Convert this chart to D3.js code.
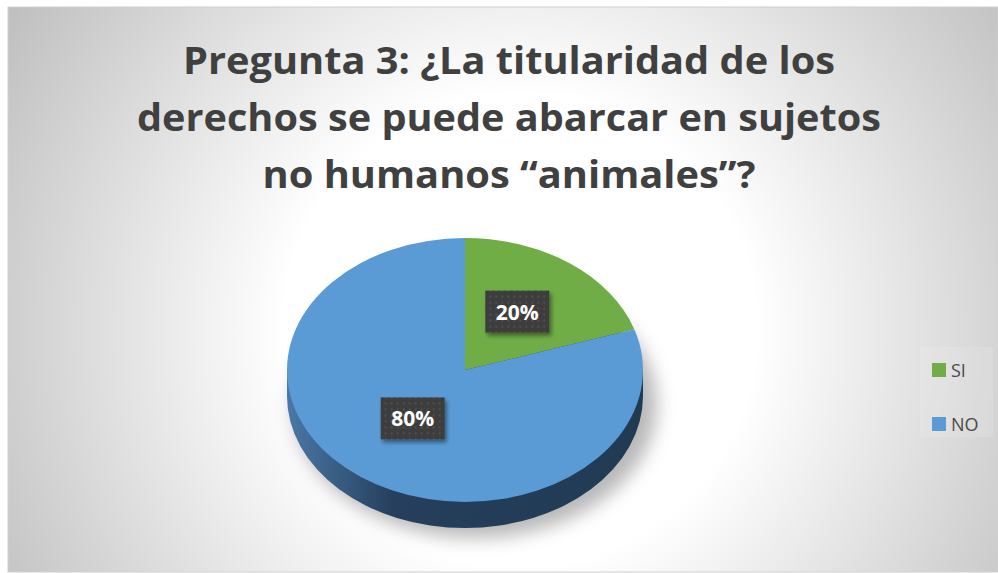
<!DOCTYPE html>
<html>
<head>
<meta charset="utf-8">
<script src="https://cdn.jsdelivr.net/npm/d3@7"></script>
<style>
  body { margin: 0; background: #fff; }
  svg { display: block; }
</style>
</head>
<body>
<div id="chart"></div>
<script>
// data
var categories = ["SI", "NO"];
var values = [20, 80];
var colors = ["#70ad47", "#5b9bd5"];
var titleLines = ["Pregunta 3: ¿La titularidad de los",
                  "derechos se puede abarcar en sujetos",
                  "no humanos \u201Canimales\u201D?"];
var titleWidths = [652, 744, 493];

var W = 998, H = 573;
var svg = d3.select("#chart").append("svg").attr("width", W).attr("height", H);
var defs = svg.append("defs");

// background gradient
var bg = defs.append("radialGradient").attr("id", "bg")
    .attr("gradientUnits", "userSpaceOnUse")
    .attr("cx", 520).attr("cy", 330).attr("r", 620);
bg.append("stop").attr("offset", "0").attr("stop-color", "#ffffff");
bg.append("stop").attr("offset", "0.38").attr("stop-color", "#ffffff");
bg.append("stop").attr("offset", "1").attr("stop-color", "#bcbcbc");

svg.append("rect").attr("x", 8).attr("y", 7).attr("width", 990).attr("height", 565)
    .attr("fill", "url(#bg)").attr("stroke", "#d0d0d0").attr("stroke-width", 1);

// title
var title = svg.append("g").attr("fill", "#404040")
    .style("font-family", "'Open Sans', Lato, sans-serif")
    .style("font-weight", "bold").style("font-size", "38px");
titleLines.forEach(function(t, i) {
  title.append("text")
    .attr("x", 509).attr("y", 74 + i * 57)
    .attr("text-anchor", "middle")
    .attr("textLength", titleWidths[i])
    .attr("lengthAdjust", "spacingAndGlyphs")
    .text(t);
});

// pie geometry
var cx = 465, cy = 370, rx = 178, ry = 132, depth = 26;
var pie = d3.pie().sort(null).value(function(d) { return d; });
var arcs = pie(values);
var arc = d3.arc().innerRadius(0).outerRadius(rx);

// shadow
var blur = defs.append("filter").attr("id", "blur")
    .attr("x", "-30%").attr("y", "-30%").attr("width", "160%").attr("height", "160%");
blur.append("feGaussianBlur").attr("stdDeviation", 9);
svg.append("ellipse").attr("cx", cx + 10).attr("cy", cy + depth + 8)
    .attr("rx", rx + 4).attr("ry", ry + 2)
    .attr("fill", "rgba(0,0,0,0.28)").attr("filter", "url(#blur)");

// side gradient
var sg = defs.append("linearGradient").attr("id", "side")
    .attr("gradientUnits", "userSpaceOnUse")
    .attr("x1", cx - rx).attr("x2", cx + rx).attr("y1", 0).attr("y2", 0);
sg.append("stop").attr("offset", "0").attr("stop-color", "#4a78a6");
sg.append("stop").attr("offset", "0.3").attr("stop-color", "#253f5c");
sg.append("stop").attr("offset", "1").attr("stop-color", "#213a54");

var side = svg.append("g");
side.append("ellipse").attr("cx", cx).attr("cy", cy + depth)
    .attr("rx", rx).attr("ry", ry).attr("fill", "url(#side)");
side.append("rect").attr("x", cx - rx).attr("y", cy)
    .attr("width", rx * 2).attr("height", depth).attr("fill", "url(#side)");

// top face
var face = svg.append("g")
    .attr("transform", "translate(" + cx + "," + cy + ") scale(1," + (ry / rx) + ")");
face.selectAll("path").data(arcs).enter().append("path")
    .attr("d", arc)
    .attr("fill", function(d, i) { return colors[i]; });

// data labels
var pat = defs.append("pattern").attr("id", "dots")
    .attr("patternUnits", "userSpaceOnUse").attr("width", 6).attr("height", 6);
pat.append("rect").attr("width", 6).attr("height", 6).attr("fill", "#3d3d3d");
pat.append("rect").attr("x", 2).attr("y", 2).attr("width", 2).attr("height", 2).attr("fill", "#4f4f4f");

var shadowF = defs.append("filter").attr("id", "lblshadow")
    .attr("x", "-20%").attr("y", "-20%").attr("width", "150%").attr("height", "160%");
shadowF.append("feDropShadow").attr("dx", 2).attr("dy", 3).attr("stdDeviation", 2)
    .attr("flood-color", "#000").attr("flood-opacity", 0.45);

var total = d3.sum(values);
var labels = svg.selectAll("g.lbl").data(arcs).enter().append("g").attr("class", "lbl")
    .attr("transform", function(d) {
      var a = (d.startAngle + d.endAngle) / 2;
      var x = cx + Math.sin(a) * rx * 0.5;
      var y = cy - Math.cos(a) * ry * 0.5 - 5;
      return "translate(" + x + "," + y + ")";
    });
labels.append("rect").attr("x", -32).attr("y", -21).attr("width", 64).attr("height", 42)
    .attr("fill", "url(#dots)").attr("filter", "url(#lblshadow)");
labels.append("text").attr("text-anchor", "middle").attr("y", 8)
    .attr("fill", "#fff").style("font-family", "'Open Sans', sans-serif")
    .style("font-weight", "bold").style("font-size", "21px")
    .text(function(d) { return Math.round(d.value / total * 100) + "%"; });

// legend
var legend = svg.append("g");
legend.append("rect").attr("x", 920).attr("y", 347).attr("width", 73).attr("height", 90)
    .attr("fill", "rgba(255,255,255,0.12)");
var li = legend.selectAll("g.li").data(categories).enter().append("g").attr("class", "li")
    .attr("transform", function(d, i) { return "translate(932," + (363 + i * 54) + ")"; });
li.append("rect").attr("width", 14).attr("height", 14)
    .attr("fill", function(d, i) { return colors[i]; });
li.append("text").attr("x", 19).attr("y", 14)
    .attr("fill", "#4a4a4a").style("font-family", "'Open Sans', sans-serif").style("font-size", "18px")
    .text(function(d) { return d; });
</script>
</body>
</html>
